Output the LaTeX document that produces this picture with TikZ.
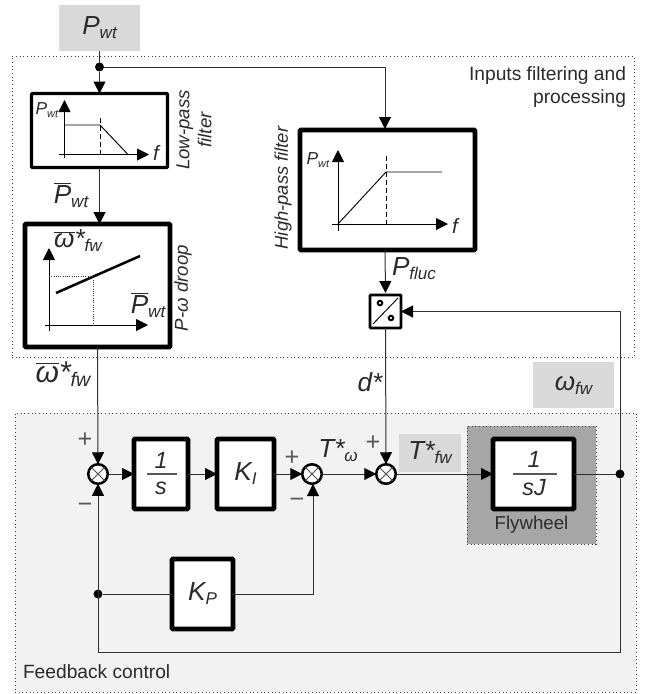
\documentclass[tikz,border=0pt]{standalone}
\usepackage{fontspec}
\setmainfont{Liberation Sans}
\usetikzlibrary{arrows.meta}
\definecolor{ink}{HTML}{2B2B2B}
\definecolor{wire}{HTML}{303030}
\definecolor{tagfill}{HTML}{D9D9D9}
\definecolor{fbfill}{HTML}{F2F2F2}
\definecolor{flyfill}{HTML}{A6A6A6}
\def\px{*0.75pt}
\newcommand\fs[1]{\fontsize{#1}{#1}\selectfont}
% large symbol with subscript
\newcommand\Lsym[2]{{\fs{19.6pt}\itshape #1\raisebox{-3pt}{\fs{12.8pt}#2}}}
\newcommand\Ssym[2]{{\fs{13pt}\itshape #1\raisebox{-2pt}{\fs{8.3pt}#2}}}
\newcommand\Bar[1]{$\overline{\hbox{\fs{19.6pt}\itshape #1}}$}
\tikzset{
  x=0.75pt,y=-0.75pt,
  every node/.style={text=ink,inner sep=0pt,outer sep=0pt},
  wirestyle/.style={draw=wire,line width=0.75pt},
  arrowline/.style={wirestyle,-{Triangle[length=9pt,width=9pt,color=black]}},
  axisline/.style={draw=black,line width=0.75pt,-{Triangle[length=9pt,width=9pt,color=black]}},
  thinline/.style={draw=black,line width=0.7pt},
  blockA/.style={draw=black,fill=white,line width=2.4pt,rounded corners=0.6pt},
  blockB/.style={draw=black,fill=white,line width=3.4pt,rounded corners=0.6pt},
  sumnode/.style={circle,draw=black,fill=white,line width=1.9pt,minimum size=19.5\px},
  tag/.style={fill=tagfill,draw=none},
  region/.style={draw=black!75,line width=0.6pt,dash pattern=on 0.75pt off 2pt},
  dotnode/.style={circle,fill=black,minimum size=9\px},
  caption/.style={font=\fs{14.4pt}},
  sign/.style={font=\fs{19pt},text=black!65},
  fracbar/.style={draw=black!65,line width=0.8pt},
  conDot/.style={circle,draw=black,fill=white,line width=1.5pt,minimum size=4.5\px},
}
\begin{document}
\begin{tikzpicture}
\useasboundingbox (0,0) rectangle (646,694);
% regions
\node[region,minimum width=622\px,minimum height=301\px,anchor=north west] (inputs) at (12,56) {};
\node[region,fill=fbfill,minimum width=621\px,minimum height=279\px,anchor=north west] (fb) at (15,413) {};
\node[caption,align=right,anchor=north east] (inputslabel) at (626,67) {Inputs filtering and\\[2.2pt]processing};
\node[caption,anchor=west] (fblabel) at (23,672) {Feedback control};
% tags
\node[tag,minimum width=81\px,minimum height=46\px] (pwt) at (99.5,28) {\Lsym{P}{wt}};
\node[tag,minimum width=81\px,minimum height=46\px] (wfw) at (573.5,385) {\Lsym{ω}{fw}};
\node[tag,minimum width=62\px,minimum height=38\px] (tfw) at (430,453) {\Lsym{T*}{fw}};
% flywheel
\node[region,fill=flyfill,minimum width=129\px,minimum height=118\px,anchor=north west] (fly) at (467,426) {};
\node[font=\fs{14pt}] (flylabel) at (531.5,525) {Flywheel};
% blocks
\node[blockA,minimum width=136\px,minimum height=74\px] (lp) at (99.5,130.5) {};
\node[blockB,minimum width=145\px,minimum height=123\px] (droop) at (97.5,285.5) {};
\node[blockB,minimum width=175\px,minimum height=120\px] (hp) at (387.5,190) {};
\node[blockA,line width=2pt,minimum width=31\px,minimum height=33\px] (conv) at (385.5,311.5) {};
\node[blockB,minimum width=54\px,minimum height=70\px] (inte) at (161,474) {};
\node[blockB,minimum width=57\px,minimum height=70\px] (ki) at (245.5,474) {\Lsym{K}{I}};
\node[blockB,minimum width=61\px,minimum height=70\px] (kp) at (202.5,594) {\Lsym{K}{P}};
\node[blockB,minimum width=81\px,minimum height=70\px] (plant) at (533.5,474) {};
% sums
\node[sumnode] (s1) at (98,474) {};
\node[sumnode] (s2) at (312,474) {};
\node[sumnode] (s3) at (386,474) {};
\foreach \s in {s1,s2,s3}{
  \draw[thinline,draw=black!70] (\s.north west) -- (\s.south east);
  \draw[thinline,draw=black!70] (\s.north east) -- (\s.south west);
}
% junctions
\node[dotnode] (j1) at (99.5,67) {};
\node[dotnode] (j2) at (98,594) {};
\node[dotnode] (j3) at (620,474) {};
% wiring
\coordinate (c1) at (385,67);
\coordinate (c2) at (385,129);
\coordinate (c3) at (385,250);
\coordinate (c4) at (385.5,293);
\coordinate (c5) at (620,652);
\coordinate (c6) at (98,652);
\coordinate (c7) at (620,311.5);
\coordinate (c8) at (313,594);
\coordinate (c9) at (313,484);
\draw[wirestyle] (pwt.south) -- (j1);
\draw[arrowline] (j1) -- (lp.north);
\draw[arrowline] (j1) -- (c1) -- (c2);
\draw[arrowline] (c3) -- (c4);
\draw[arrowline] (lp.south) -- (lp.south |- droop.north);
\draw[arrowline] (droop.south) -- (s1.north);
\draw[arrowline] (conv.south) -- (s3.north);
\draw[arrowline] (s1.east) -- (inte.west);
\draw[arrowline] (inte.east) -- (ki.west);
\draw[arrowline] (ki.east) -- (s2.west);
\draw[arrowline] (s2.east) -- (s3.west);
\draw[arrowline] (s3.east) -- (plant.west);
\draw[wirestyle] (plant.east) -- (j3);
\draw[arrowline] (c6) -- (s1.south);
\draw[wirestyle] (j2) -- (kp.west);
\draw[arrowline] (kp.east) -- (c8) -- (c9);
\draw[wirestyle] (j3) -- (c5) -- (c6);
\draw[arrowline] (j3) -- (c7) -- (conv.east);
% converter glyph
\coordinate (cv1) at (373,324);
\coordinate (cv2) at (398,298);
\draw[thinline] (cv1) -- (cv2);
\node[conDot] (cvd1) at (380,303) {};
\node[conDot] (cvd2) at (391,318) {};
% fractions
\node[font=\fs{17.5pt}\itshape] (n1) at (161,460) {1};
\node[font=\fs{17.5pt}\itshape] (d1) at (161,488) {s};
\coordinate (b1a) at (147,474); \coordinate (b1b) at (177,474);
\draw[fracbar] (b1a) -- (b1b);
\node[font=\fs{17.5pt}\itshape] (n2) at (534,459) {1};
\node[font=\fs{17.5pt}\itshape] (d2) at (534,488) {sJ};
\coordinate (b2a) at (513,474); \coordinate (b2b) at (557,474);
\draw[fracbar] (b2a) -- (b2b);
% low-pass plot
\coordinate (a1) at (64.5,158); \coordinate (a2) at (64.5,100);
\coordinate (a3) at (59,154.5); \coordinate (a4) at (149,154.5);
\coordinate (l1) at (64.5,125); \coordinate (l2) at (100,125); \coordinate (l3) at (128,154.5);
\coordinate (l4) at (100,118); \coordinate (l5) at (100,154);
\draw[axisline] (a1) -- (a2);
\draw[axisline] (a3) -- (a4);
\draw[thinline] (l1) -- (l2) -- (l3);
\draw[thinline,dash pattern=on 4pt off 2pt] (l4) -- (l5);
\node (lpP) at (47,110) {\Ssym{P}{wt}};
\node[font=\fs{15.5pt}\itshape] (lpf) at (156,153) {f};
\node[font=\fs{14pt}\itshape,rotate=90,align=center] (lplabel) at (194,130) {Low-pass\\[2.5pt]filter};
% droop plot
\coordinate (d1a) at (49,331); \coordinate (d1b) at (49,248);
\coordinate (d2a) at (45,325); \coordinate (d2b) at (148,325);
\coordinate (d3a) at (56,293); \coordinate (d3b) at (140,256);
\coordinate (d4a) at (49,276); \coordinate (d4b) at (93,276); \coordinate (d4c) at (93,325);
\draw[axisline] (d1a) -- (d1b);
\draw[axisline] (d2a) -- (d2b);
\draw[draw=black,line width=1.9pt] (d3a) -- (d3b);
\draw[draw=black!80,line width=0.7pt,densely dotted] (d4a) -- (d4b) -- (d4c);
\node (droopW) at (78,241) {\Bar{ω}\Lsym{*}{fw}};
\node (droopP) at (148,305) {\Bar{P}\Lsym{}{wt}};
\node[font=\fs{14pt}\itshape,rotate=90] (drooplabel) at (183,288) {P-ω droop};
% high-pass plot
\coordinate (h1a) at (338,231); \coordinate (h1b) at (338,150);
\coordinate (h2a) at (332,224); \coordinate (h2b) at (448,224);
\coordinate (h3a) at (338,224); \coordinate (h3b) at (386,172); \coordinate (h3c) at (442,172);
\coordinate (h4a) at (386,156); \coordinate (h4b) at (386,224);
\draw[axisline] (h1a) -- (h1b);
\draw[axisline] (h2a) -- (h2b);
\draw[thinline] (h3a) -- (h3b) -- (h3c);
\draw[thinline,dash pattern=on 4pt off 2pt] (h4a) -- (h4b);
\node (hpP) at (318,160) {\Ssym{P}{wt}};
\node[font=\fs{15.5pt}\itshape] (hpf) at (455,226) {f};
\node[font=\fs{13.8pt}\itshape,rotate=90] (hplabel) at (283,188) {High-pass filter};
% signal labels
\node (lbar) at (71,195) {\Bar{P}\Lsym{}{wt}};
\node (lfluc) at (414,269) {\Lsym{P}{fluc}};
\node (lw) at (63,374) {\scalebox{1.15}{\Bar{ω}\Lsym{*}{fw}}};
\node[font=\fs{19.6pt}\itshape] (ld) at (370,382) {d*};
\node (lt) at (338,451) {\Lsym{T*}{ω}};
% signs
\node[sign] (p1) at (85,440) {+};
\node[sign] (m1) at (85,508) {−};
\node[sign] (p2) at (292,458) {+};
\node[sign] (m2) at (297,503) {−};
\node[sign] (p3) at (373,443) {+};
\end{tikzpicture}
\end{document}
